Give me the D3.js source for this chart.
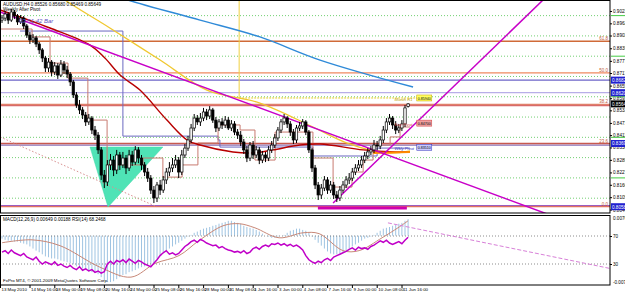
<!DOCTYPE html>
<html><head><meta charset="utf-8">
<script src="https://cdn.jsdelivr.net/npm/d3@7"></script>
<style>
body{margin:0;background:#fff;overflow:hidden}
svg{display:block}
text{font-family:"Liberation Sans",Arial,sans-serif}
</style></head>
<body><svg id="c" width="625" height="292"></svg>
<script>
// ---------------- DATA ----------------
const symbolTitle = "AUDUSD,H4  0.85526 0.85680 0.85469 0.85649";
const subTitle = "Weekly After Pivot";
const timerText = "03:51:42  Bar";
const indTitle = "MACD(12,26,9) 0.00649 0.00188  RSI(14) 68.2468";
const footer = "FxPro MT4, \u00a9 2001-2009 MetaQuotes Software Corp.";

// H4 candles [open, high, low, close], 13 May 2010 00:00 .. 11 Jun 2010 20:00
const candles = [
[.8978,.9003,.8964,.8988],[.8988,.9023,.8973,.9008],[.9008,.9018,.8959,.8978],[.8978,.9033,.8969,.9018],
[.9018,.9028,.8983,.8998],[.8998,.9008,.8954,.8969],[.8969,.9003,.8959,.8988],[.8988,.8998,.8934,.8949],
[.8949,.8959,.8890,.8904],[.8904,.8919,.8860,.8880],[.8880,.8909,.8865,.8890],[.8890,.8900,.8845,.8860],
[.8860,.8870,.8811,.8831],[.8831,.8840,.8771,.8791],[.8791,.8801,.8722,.8742],[.8742,.8791,.8722,.8771],
[.8771,.8781,.8702,.8722],[.8722,.8771,.8707,.8752],[.8752,.8766,.8688,.8707],[.8707,.8781,.8697,.8761],
[.8761,.8776,.8712,.8732],[.8732,.8752,.8692,.8712],[.8712,.8722,.8653,.8673],[.8673,.8683,.8594,.8609],
[.8609,.8623,.8545,.8559],[.8559,.8584,.8515,.8535],[.8535,.8549,.8490,.8510],[.8510,.8525,.8456,.8476],
[.8476,.8515,.8461,.8495],[.8495,.8505,.8416,.8436],[.8436,.8456,.8387,.8411],[.8411,.8426,.8318,.8338],
[.8338,.8352,.8190,.8214],[.8214,.8239,.8150,.8180],[.8180,.8288,.8160,.8264],[.8264,.8318,.8239,.8288],
[.8288,.8308,.8209,.8239],[.8239,.8338,.8219,.8313],[.8313,.8328,.8239,.8264],[.8264,.8328,.8249,.8298],
[.8298,.8313,.8219,.8249],[.8249,.8338,.8234,.8313],[.8313,.8333,.8259,.8278],[.8278,.8357,.8264,.8338],
[.8338,.8352,.8273,.8298],[.8298,.8313,.8239,.8264],[.8264,.8278,.8209,.8229],[.8229,.8249,.8180,.8199],
[.8199,.8214,.8121,.8140],[.8140,.8160,.8076,.8101],[.8101,.8180,.8081,.8165],[.8165,.8190,.8116,.8140],
[.8140,.8209,.8126,.8190],[.8190,.8249,.8170,.8229],[.8229,.8278,.8209,.8249],[.8249,.8298,.8229,.8264],
[.8264,.8313,.8249,.8288],[.8288,.8303,.8199,.8229],[.8229,.8338,.8214,.8313],[.8313,.8367,.8298,.8347],
[.8347,.8407,.8333,.8387],[.8387,.8466,.8372,.8446],[.8446,.8515,.8431,.8495],[.8495,.8510,.8461,.8476],
[.8476,.8520,.8456,.8495],[.8495,.8545,.8480,.8525],[.8525,.8540,.8485,.8505],[.8505,.8554,.8490,.8535],
[.8535,.8545,.8471,.8485],[.8485,.8500,.8426,.8446],[.8446,.8490,.8431,.8476],[.8476,.8495,.8441,.8461],
[.8461,.8505,.8446,.8485],[.8485,.8500,.8436,.8446],[.8446,.8485,.8431,.8466],[.8466,.8480,.8411,.8426],
[.8426,.8441,.8392,.8411],[.8411,.8431,.8357,.8377],[.8377,.8392,.8318,.8338],[.8338,.8357,.8278,.8298],
[.8298,.8377,.8283,.8362],[.8362,.8382,.8293,.8313],[.8313,.8357,.8298,.8338],[.8338,.8352,.8268,.8288],
[.8288,.8333,.8273,.8313],[.8313,.8328,.8278,.8298],[.8298,.8357,.8283,.8338],[.8338,.8382,.8323,.8362],
[.8362,.8416,.8347,.8397],[.8397,.8451,.8382,.8436],[.8436,.8490,.8421,.8476],[.8476,.8515,.8461,.8495],
[.8495,.8505,.8446,.8466],[.8466,.8480,.8407,.8426],[.8426,.8441,.8367,.8387],[.8387,.8461,.8372,.8446],
[.8446,.8476,.8431,.8456],[.8456,.8490,.8441,.8476],[.8476,.8485,.8411,.8426],[.8426,.8436,.8323,.8338],
[.8338,.8347,.8229,.8249],[.8249,.8264,.8145,.8165],[.8165,.8180,.8091,.8116],[.8116,.8170,.8096,.8150],
[.8150,.8209,.8135,.8190],[.8190,.8204,.8121,.8140],[.8140,.8185,.8126,.8165],[.8165,.8180,.8096,.8116],
[.8116,.8135,.8081,.8101],[.8101,.8160,.8086,.8140],[.8140,.8185,.8126,.8165],[.8165,.8209,.8150,.8190],
[.8190,.8224,.8170,.8199],[.8199,.8249,.8185,.8229],[.8229,.8268,.8214,.8249],[.8249,.8288,.8234,.8264],
[.8264,.8308,.8249,.8288],[.8288,.8328,.8273,.8308],[.8308,.8347,.8293,.8328],[.8328,.8357,.8313,.8338],
[.8338,.8387,.8323,.8362],[.8362,.8382,.8338,.8357],[.8357,.8407,.8342,.8387],[.8387,.8456,.8372,.8436],
[.8436,.8495,.8421,.8476],[.8476,.8515,.8461,.8495],[.8495,.8505,.8441,.8461],[.8461,.8480,.8416,.8436],
[.8436,.8466,.8421,.8446],[.8446,.8485,.8431,.8466],[.8466,.8559,.8451,.8545],[.85526,.85680,.85469,.85649]
];

const xLabels = ["13 May 2010","14 May 16:00","18 May 00:00","19 May 08:00","20 May 16:00","24 May 00:00",
  "25 May 08:00","26 May 16:00","28 May 00:00","31 May 08:00","1 Jun 16:00","3 Jun 00:00","4 Jun 08:00",
  "7 Jun 16:00","9 Jun 00:00","10 Jun 08:00","11 Jun 16:00"];
const xLabelBars = [0,10,18,26,34,42,50,58,66,74,82,90,98,106,114,122,130];

const priceTicks = [0.90230,0.89620,0.89020,0.88390,0.87770,0.87170,0.86550,0.85930,0.85330,
  0.84710,0.84110,0.83500,0.82890,0.82270,0.81660,0.81050,0.80440];

const roundLevels = [0.81,0.82,0.83,0.84,0.85,0.86,0.87,0.88,0.89,0.90];
const fibLow = 0.8058, fibHigh = 0.9378;
const fibLevels = [0, 23.6, 38.2, 50, 61.8];
const fibText = ["0.0","23.6","38.2","50.0","61.8"];
const extraLevels = [0.8682, 0.8620, 0.8556, 0.8362, 0.8063];
const priceBoxes = [0.86820, 0.86200, 0.83695, 0.80580];
const lastPrice = 0.85649;

// moving averages, control points [bar, price]
const maBlue = [[31.6,0.9126],[40.6,0.9077],[63.9,0.8978],[83.2,0.8895],[102.6,0.8781],[132.6,0.8648]];
const maYellow = [[13.9,0.9151],[20.3,0.9077],[34.8,0.8939],[51,0.8781],[66.1,0.8633],[83.2,0.8569],
  [100.3,0.8451],[111.3,0.8372],[124.2,0.8323],[131.6,0.8333]];
const maRed = [[-0.6,0.9028],[15.5,0.8939],[28.4,0.8855],[33.2,0.8791],[38.1,0.8707],[44.5,0.8633],
  [53.2,0.8485],[59.7,0.8387],[63.9,0.8362],[74.5,0.8328],[81,0.8323],[87.4,0.8338],[96.1,0.8362],
  [102.6,0.8367],[116.5,0.8338],[126.8,0.8328],[131.6,0.8328]];
const maOrange = [[119.7,0.8323],[131.6,0.8328]];

// stepped trailing lines [bar, price]
const stepSalmon = [[-0.6,0.8934],[9.7,0.8895],[15.5,0.8766],[21.3,0.8692],[27.7,0.8485],[33.9,0.8264],
  [45.5,0.8298],[51.9,0.8204],[58.1,0.8264],[63.2,0.8372],[69.7,0.8461],[76.8,0.8436],[81.6,0.8288],
  [88.1,0.8426],[100.3,0.8298],[106.8,0.8155],[112.9,0.8229],[116.5,0.8288],[119.7,0.8362],
  [125.2,0.8402],[128.4,0.8451],[131.6,0.8451]];
const stepSlate = [[5.8,0.8924],[39.0,0.8406],[69.7,0.8387],[70.3,0.8352],[100.3,0.8308],[121,0.8347],[131.6,0.8347]];

// drawn objects
const trendDown = [[-0.6,0.9018],[176.8,0.8017]];
const trendUp = [[106.8,0.8076],[180,0.9158]];
const supportBar = [[101.9,0.8052],[130.6,0.8052]];
const dottedLine = [[-0.6,0.8402],[50,0.8057]];
const triangle = [[28.4,0.8352],[51.9,0.8352],[34.2,0.8057]];
const monthLevel = 0.8594, monthStartBar = 76.5, monthEndBar = 138;

// indicator window
const macdHist = [-.0007,-.0010,-.0012,-.0012,-.0014,-.0014,-.0017,-.0019,-.0021,-.0026,-.0031,
 -.0036,-.0040,-.0045,-.0050,-.0052,-.0055,-.0055,-.0057,-.0060,
 -.0062,-.0064,-.0067,-.0069,-.0074,-.0076,-.0079,-.0083,-.0086,-.0088,-.0090,-.0093,
 -.0100,-.0107,-.0112,-.0112,-.0110,
 -.0105,-.0100,-.0095,-.0093,-.0088,-.0086,-.0083,-.0079,-.0076,-.0074,-.0071,-.0069,-.0067,
 -.0055,-.0048,-.0040,-.0036,-.0031,-.0026,-.0021,-.0017,-.0012,-.0007,
 -.0002,.0002,.0007,
 .0010,.0014,.0017,.0019,.0021,.0024,.0026,.0029,.0031,.0033,.0036,.0036,.0033,.0031,.0029,.0024,
 .0021,.0019,.0017,.0014,.0010,.0005,
 0,-.0002,-.0005,-.0005,-.0002,0,.0002,
 .0007,.0012,.0014,.0017,.0017,.0014,.0012,.0007,
 -.0002,-.0010,-.0017,-.0024,-.0031,-.0038,-.0043,
 -.0045,-.0045,-.0043,-.0040,
 -.0036,-.0031,-.0026,-.0021,-.0017,-.0012,-.0007,-.0005,
 -.0002,.0002,.0007,.0012,.0017,
 .0019,.0021,.0024,.0026,.0029,.0031,.0036,.0040];
const macdSignal = [[0,-.0017],[9.7,-.0010],[18.7,-.0024],[31.6,-.0076],[41.6,-.0100],[49.4,-.0067],
 [57.1,-.0048],[63.5,-.0012],[71.3,.0024],[76.5,.0029],[81.6,.0019],[89.4,-.0005],[97.1,.0007],
 [102.3,.0005],[110,-.0036],[115.2,-.0036],[122.6,-.0005],[127.7,.0019],[131,.0036]];
const rsi = [47,49,45,50,46,44,42,45,40,38,36,40,34,30,33,31,29,33,28,30,27,25,28,24,22,26,21,
 23,20,22,18,20,17,19,30,34,30,35,33,36,32,37,34,31,35,33,30,28,26,31,36,42,46,49,44,46,
 43,45,50,55,58,62,64,61,65,63,60,58,56,57,53,55,52,50,49,47,48,46,49,45,47,52,54,51,55,
 57,55,59,58,60,57,59,56,58,55,57,54,50,42,36,33,31,34,32,36,38,35,40,42,44,46,48,51,53,50,54,52,
 53,51,55,57,60,63,61,64,60,58,60,62,59,64,68.2468];
const rsiLevels = [70, 30];
const indTrend = [[124.5,.0031],[196.1,-.0079]];
const indAxisTicks = ["0.00761","-0.00779"];

// ---------------- DRAW ----------------
const svg = d3.select("#c");
const PW = 610, MT = 0, MB = 213, IT = 215, IB = 285;
const x = d3.scaleLinear().domain([0,196]).range([2, 609.6]);
const y = d3.scaleLinear().domain([0.8027, 0.9077]).range([MB, MT]);
const yH = d3.scaleLinear().domain([-0.0119, 0.0050]).range([IB, IT]);
const yR = d3.scaleLinear().domain([0, 100]).range([IB, IT]);

const defs = svg.append("defs");
defs.append("clipPath").attr("id","cm").append("rect").attr("x",0).attr("y",MT).attr("width",PW).attr("height",MB-MT);
defs.append("clipPath").attr("id","ci").append("rect").attr("x",0).attr("y",IT).attr("width",PW).attr("height",IB-IT);

svg.append("rect").attr("width",625).attr("height",292).attr("fill","#fff");
const g = svg.append("g").attr("clip-path","url(#cm)");
const line = d3.line().x(d=>x(d[0])).y(d=>y(d[1]));

// round-number dotted grid
g.selectAll(".rl").data(roundLevels).join("line")
  .attr("x1",0).attr("x2",PW).attr("y1",d=>y(d)).attr("y2",d=>y(d))
  .attr("stroke","#4cc44c").attr("stroke-width",0.8).attr("stroke-dasharray","1,2");

// extra horizontal levels
const extraColors = ["#6c64c8","#b8aee8","#d86a6a","#8a72b8","#9a5cc0"];
g.selectAll(".xl").data(extraLevels).join("line")
  .attr("x1",0).attr("x2",PW).attr("y1",d=>y(d)).attr("y2",d=>y(d))
  .attr("stroke",(d,i)=>extraColors[i]).attr("stroke-width",1.2);

// fib lines
const fibPrice = l => fibLow + (fibHigh-fibLow)*l/100;
const fibColors = ["#e07060","#c85a50","#e0806a","#f08a60","#d06a38"];
g.selectAll(".fl").data(fibLevels).join("line")
  .attr("x1",0).attr("x2",PW).attr("y1",d=>y(fibPrice(d))).attr("y2",d=>y(fibPrice(d)))
  .attr("stroke",(d,i)=>fibColors[i]).attr("stroke-width",1.3);
g.selectAll(".ft").data(fibLevels).join("text")
  .attr("x",PW-2).attr("y",d=>y(fibPrice(d))-1).attr("text-anchor","end")
  .attr("font-size",4.5).attr("fill","#c06040").text((d,i)=>fibText[i]);

// triangle
g.append("path").attr("d", line(triangle)+"Z").attr("fill","#4fe3b6").attr("stroke","#3fd8a8").attr("stroke-width",0.5);

// dotted descending line
g.append("path").attr("d",line(dottedLine)).attr("fill","none").attr("stroke","#d89090").attr("stroke-width",1).attr("stroke-dasharray","1.5,2");

// month level (yellow)
g.append("line").attr("x1",x(monthStartBar)).attr("x2",x(monthStartBar)).attr("y1",MT).attr("y2",y(monthLevel))
  .attr("stroke","#f0d040").attr("stroke-width",1);
g.append("line").attr("x1",x(monthStartBar)).attr("x2",x(monthEndBar)).attr("y1",y(monthLevel)).attr("y2",y(monthLevel))
  .attr("stroke","#e8d030").attr("stroke-width",1).attr("stroke-dasharray","2,1");

// stepped lines
const stepLine = d3.line().x(d=>x(d[0])).y(d=>y(d[1])).curve(d3.curveStepAfter);
g.append("path").attr("d",stepLine(stepSlate)).attr("fill","none").attr("stroke","#6a68c0").attr("stroke-width",1);
g.append("path").attr("d",stepLine(stepSalmon)).attr("fill","none").attr("stroke","#c87a70").attr("stroke-width",1);

// moving averages
const smooth = d3.line().x(d=>x(d[0])).y(d=>y(d[1])).curve(d3.curveCatmullRom);
g.append("path").attr("d",smooth(maBlue)).attr("fill","none").attr("stroke","#2f8ad8").attr("stroke-width",1.4);
g.append("path").attr("d",smooth(maYellow)).attr("fill","none").attr("stroke","#f0c830").attr("stroke-width",1.3);
g.append("path").attr("d",smooth(maRed)).attr("fill","none").attr("stroke","#b80000").attr("stroke-width",1.4);
g.append("path").attr("d",line(maOrange)).attr("fill","none").attr("stroke","#ff8c00").attr("stroke-width",2);

// trend lines
g.append("path").attr("d",line(trendDown)).attr("stroke","#c800c8").attr("stroke-width",1.5).attr("fill","none");
g.append("path").attr("d",line(trendUp)).attr("stroke","#c800c8").attr("stroke-width",1.5).attr("fill","none");
g.append("path").attr("d",line(supportBar)).attr("stroke","#d000b0").attr("stroke-width",3).attr("fill","none");

// candles
const cg = g.append("g");
candles.forEach((c,i)=>{
  const [o,h,l,cl] = c;
  cg.append("line").attr("x1",x(i)).attr("x2",x(i)).attr("y1",y(h)).attr("y2",y(l)).attr("stroke","#000").attr("stroke-width",1);
  const top = y(Math.max(o,cl)), bot = y(Math.min(o,cl));
  cg.append("rect").attr("x",x(i)-1.2).attr("width",2.4).attr("y",top).attr("height",Math.max(0.8,bot-top))
    .attr("fill", cl>=o ? "#fff" : "#000").attr("stroke","#000").attr("stroke-width",0.7);
});

// level labels to the right of candles
const lbl = [
  {p:monthLevel, t:"Month R1", c:"#c0a000", box:"#ffff60", bt:"0.85940"},
  {p:0.8470, t:"Day Pivot", c:"#d04040", box:"#f0a0a0", bt:"0.84700"},
  {p:0.8351, t:"Wkly Pivot", c:"#3030c0", box:"#c8c8ff", bt:"0.83510"}
];
lbl.forEach(d=>{
  g.append("text").attr("x",x(126.6)).attr("y",y(d.p)+3).attr("font-size",4.2).attr("fill",d.c).attr("font-style","italic").text(d.t);
  g.append("rect").attr("x",x(133.8)).attr("y",y(d.p)-3).attr("width",15).attr("height",6).attr("fill",d.box).attr("stroke",d.c).attr("stroke-width",0.5);
  g.append("text").attr("x",x(133.8)+1).attr("y",y(d.p)+1.6).attr("font-size",3.6).attr("fill","#000").text(d.bt);
});

// titles
svg.append("text").attr("x",3).attr("y",5.5).attr("font-size",4.6).attr("fill","#000").text(symbolTitle);
svg.append("text").attr("x",3).attr("y",11).attr("font-size",4.6).attr("fill","#000").text(subTitle);
svg.append("text").attr("x",19).attr("y",23).attr("font-size",6).attr("fill","#6050c0").attr("font-style","italic").text(timerText);

// main frame
svg.append("rect").attr("x",0.5).attr("y",0.5).attr("width",PW-0.5).attr("height",MB-0.5).attr("fill","none").attr("stroke","#000").attr("stroke-width",1);

// price axis
const ax = svg.append("g").attr("transform",`translate(${PW},0)`)
  .call(d3.axisRight(y).tickValues(priceTicks).tickSize(2).tickFormat(d3.format(".5f")));
ax.select(".domain").remove();
ax.selectAll("text").attr("font-size",4.6).attr("x",3).attr("fill","#000");
ax.selectAll("line").attr("stroke","#000");

// round-level marks on axis
svg.selectAll(".gm").data(roundLevels.filter((d,i)=>i%2===1)).join("line")
  .attr("x1",PW+1).attr("x2",625).attr("y1",d=>y(d)).attr("y2",d=>y(d)).attr("stroke","#44cc44").attr("stroke-width",1);

// price boxes
const boxes = priceBoxes.map(p=>({p, c:"#2020d0"})).concat([{p:lastPrice, c:"#000"}]);
boxes.forEach(b=>{
  svg.append("rect").attr("x",PW+1).attr("y",y(b.p)-3.5).attr("width",16).attr("height",7).attr("fill",b.c);
  svg.append("text").attr("x",PW+2).attr("y",y(b.p)+1.8).attr("font-size",4.6).attr("fill","#fff").text(d3.format(".5f")(b.p));
});

// ---------------- indicator window ----------------
const gi = svg.append("g").attr("clip-path","url(#ci)");
gi.selectAll(".hb").data(macdHist).join("line")
  .attr("x1",(d,i)=>x(i)).attr("x2",(d,i)=>x(i)).attr("y1",yH(0)).attr("y2",d=>yH(d))
  .attr("stroke","#9fc4e2").attr("stroke-width",1);
gi.selectAll(".rlv").data(rsiLevels).join("line")
  .attr("x1",0).attr("x2",PW).attr("y1",d=>yR(d)).attr("y2",d=>yR(d))
  .attr("stroke","#707070").attr("stroke-width",0.8).attr("stroke-dasharray","1,2");
gi.append("path").attr("d",d3.line().x(d=>x(d[0])).y(d=>yH(d[1])).curve(d3.curveCatmullRom)(macdSignal))
  .attr("fill","none").attr("stroke","#c88878").attr("stroke-width",1);
gi.append("path").attr("d",d3.line().x((d,i)=>x(i)).y(d=>yR(d))(rsi))
  .attr("fill","none").attr("stroke","#c000c8").attr("stroke-width",1.5);
gi.append("path").attr("d",d3.line().x(d=>x(d[0])).y(d=>yH(d[1]))(indTrend))
  .attr("fill","none").attr("stroke","#d880d8").attr("stroke-width",1).attr("stroke-dasharray","4,2");

svg.append("rect").attr("x",0.5).attr("y",IT+0.5).attr("width",PW-0.5).attr("height",IB-IT-0.5).attr("fill","none").attr("stroke","#000").attr("stroke-width",1);
svg.append("text").attr("x",3).attr("y",IT+5.5).attr("font-size",4.6).attr("fill","#000").text(indTitle);
svg.append("text").attr("x",3).attr("y",IB-3).attr("font-size",4.4).attr("fill","#000").text(footer);

// indicator axis
const ia = svg.append("g").attr("transform",`translate(${PW},0)`)
  .call(d3.axisRight(yR).tickValues(rsiLevels).tickSize(2));
ia.select(".domain").remove();
ia.selectAll("text").attr("font-size",4.6).attr("x",3);
svg.append("text").attr("x",PW+3).attr("y",IT+5).attr("font-size",4.6).text(indAxisTicks[0]);
svg.append("text").attr("x",PW+3).attr("y",IB-1).attr("font-size",4.6).text(indAxisTicks[1]);

// time axis
const xa = svg.append("g").attr("transform",`translate(0,${IB})`)
  .call(d3.axisBottom(x).tickValues(xLabelBars).tickSize(3).tickFormat((d,i)=>xLabels[i]));
xa.select(".domain").remove();
xa.selectAll("text").attr("font-size",4.4).attr("text-anchor","start").attr("y",3).attr("dy","0.71em").attr("x",1);
xa.selectAll(".tick").attr("transform",d=>`translate(${Math.max(0.5,x(d)-3)},0)`);
</script></body></html>
